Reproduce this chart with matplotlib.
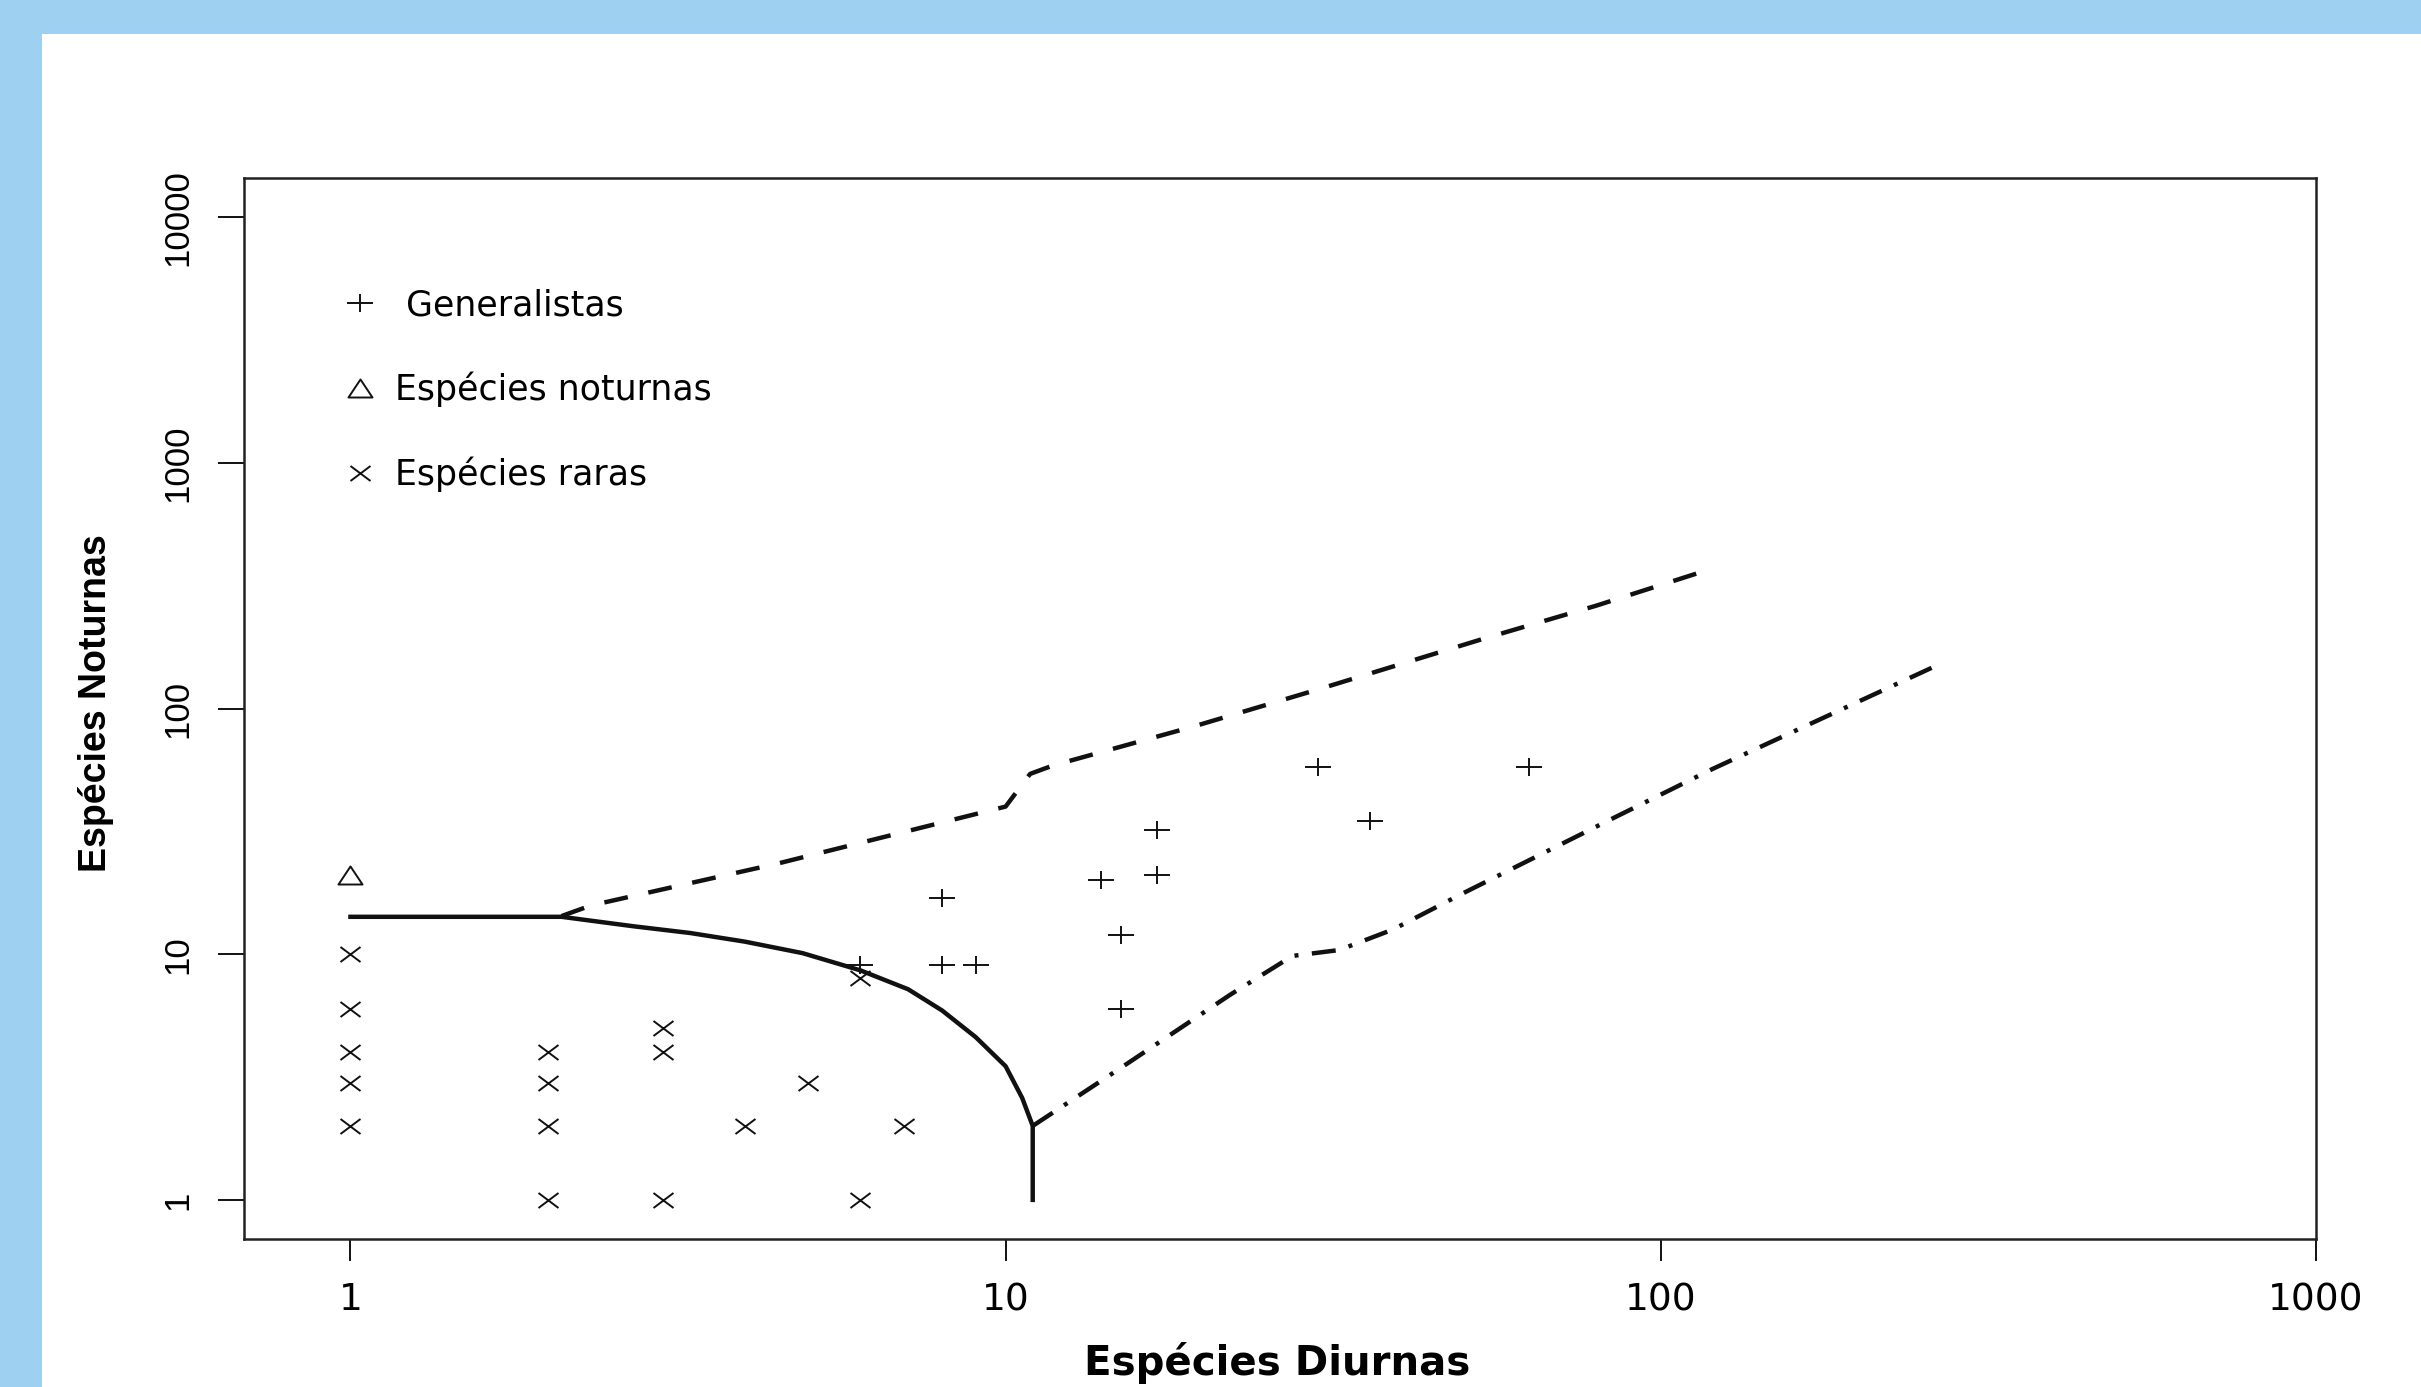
import matplotlib
matplotlib.use('Agg')
import matplotlib.pyplot as plt
from matplotlib.path import Path
from matplotlib.lines import Line2D
from matplotlib.patches import Rectangle

# Species counts: diurnal (x) vs nocturnal (y)
gen_x = [6, 8, 9, 8, 14, 17, 17, 15, 15, 30, 36, 63]
gen_y = [9, 9, 9, 17, 20, 32, 21, 12, 6, 58, 35, 58]

noct_x = [1]
noct_y = [21]

rare_x = [1, 1, 1, 1, 1, 2, 2, 2, 2, 3, 3, 3, 4, 5, 6, 6, 7]
rare_y = [10, 6, 4, 3, 2, 4, 3, 2, 1, 5, 4, 1, 2, 3, 1, 8, 2]

# boundary lines
bound_x = [1, 2.1, 2.7, 3.3, 4.0, 4.9, 6.0, 7.1, 8.0, 9.0, 10.0, 10.6, 11.0, 11.0]
bound_y = [14.2, 14.2, 13.0, 12.2, 11.25, 10.1, 8.6, 7.2, 5.9, 4.6, 3.5, 2.6, 2.0, 1.0]

upper_x = [2.1, 2.33, 4.52, 10.0, 10.9, 11.8, 19.5, 30.1, 53.5, 79.6, 117]
upper_y = [14.3, 15.8, 23.5, 39.9, 54.2, 58.6, 85, 120, 192, 262, 364]

lower_x = [11, 15.1, 22.0, 27.4, 32.3, 39, 49.9, 85.5, 120, 267]
lower_y = [2.0, 3.49, 6.83, 9.84, 10.4, 12.6, 17.7, 36.3, 56.8, 152]

xticks = [1, 10, 100, 1000]
xtick_labels = ['1', '10', '100', '1000']
yticks = [1, 10, 100, 1000, 10000]
ytick_labels = ['1', '10', '100', '1000', '10000']

legend_labels = [' Generalistas', 'Espécies noturnas', 'Espécies raras']

plt.rcParams['lines.scale_dashes'] = False

M, L = Path.MOVETO, Path.LINETO
plus_mk = Path([(-1, 0), (1, 0), (0, -0.68), (0, 0.68)], [M, L, M, L])
cross_mk = Path([(-1, -0.75), (1, 0.75), (-1, 0.75), (1, -0.75)], [M, L, M, L])
tri_mk = Path([(-1, -0.75), (1, -0.75), (0, 0.75), (-1, -0.75)], [M, L, L, Path.CLOSEPOLY])

ink = '#111111'

fig = plt.figure(figsize=(24.21, 13.87), dpi=100)
fig.patch.set_facecolor('#9ed0f2')
fig.add_artist(Rectangle((42 / 2421, 0), 1, 1 - 34 / 1387, transform=fig.transFigure,
                         facecolor='white', edgecolor='none', zorder=0))

ax = fig.add_axes([0.1008, 0.1067, 0.8558, 0.7650])
ax.set_facecolor('white')
ax.set_xscale('log')
ax.set_yscale('log')
ax.set_xlim(0.688, 1000)
ax.set_ylim(0.693, 14450)

mk = dict(ls='none', mfc='none', mec=ink, mew=1.4)
ax.plot(gen_x, gen_y, marker=plus_mk, ms=19.4, **mk)
ax.plot(noct_x, noct_y, marker=tri_mk, ms=17.3, **mk)
ax.plot(rare_x, rare_y, marker=cross_mk, ms=14.4, **mk)

ax.plot(bound_x, bound_y, color=ink, lw=3.2)
ax.plot(upper_x, upper_y, color=ink, lw=3.2, dashes=(17.3, 15.1))
ax.plot(lower_x, lower_y, color=ink, lw=3.2, dashes=(17.3, 9.7, 2.9, 9.7))

ax.minorticks_off()
ax.set_xticks(xticks, xtick_labels, family='DejaVu Sans', fontsize=27)
ax.set_yticks(yticks, ytick_labels, family='Liberation Sans',
              fontsize=25, rotation=90, va='center')
ax.tick_params(axis='x', length=16, width=1.4, pad=15, color=ink)
ax.tick_params(axis='y', length=18.5, width=1.4, pad=17, color=ink)
for s in ax.spines.values():
    s.set_linewidth(1.8)
    s.set_color('#222222')

ax.set_xlabel('Espécies Diurnas', family='DejaVu Sans', fontweight='bold', fontsize=29)
ax.xaxis.set_label_coords(0.4985, -0.097)
ax.set_ylabel('Espécies Noturnas', family='Liberation Sans',
              fontweight='bold', fontsize=27)
ax.yaxis.set_label_coords(-0.063, 0.505)

handles = [Line2D([], [], marker=plus_mk, ms=19.4, **mk),
           Line2D([], [], marker=tri_mk, ms=17.3, **mk),
           Line2D([], [], marker=cross_mk, ms=14.4, **mk)]
ax.legend(handles, legend_labels, loc='upper left', bbox_to_anchor=(0.0477, 0.896),
          frameon=False, prop={'family': 'DejaVu Sans', 'size': 25},
          handlelength=1.0, handletextpad=0.51, borderpad=0, borderaxespad=0,
          labelspacing=1.42)

fig.savefig('out.png', dpi=100, facecolor=fig.get_facecolor())
